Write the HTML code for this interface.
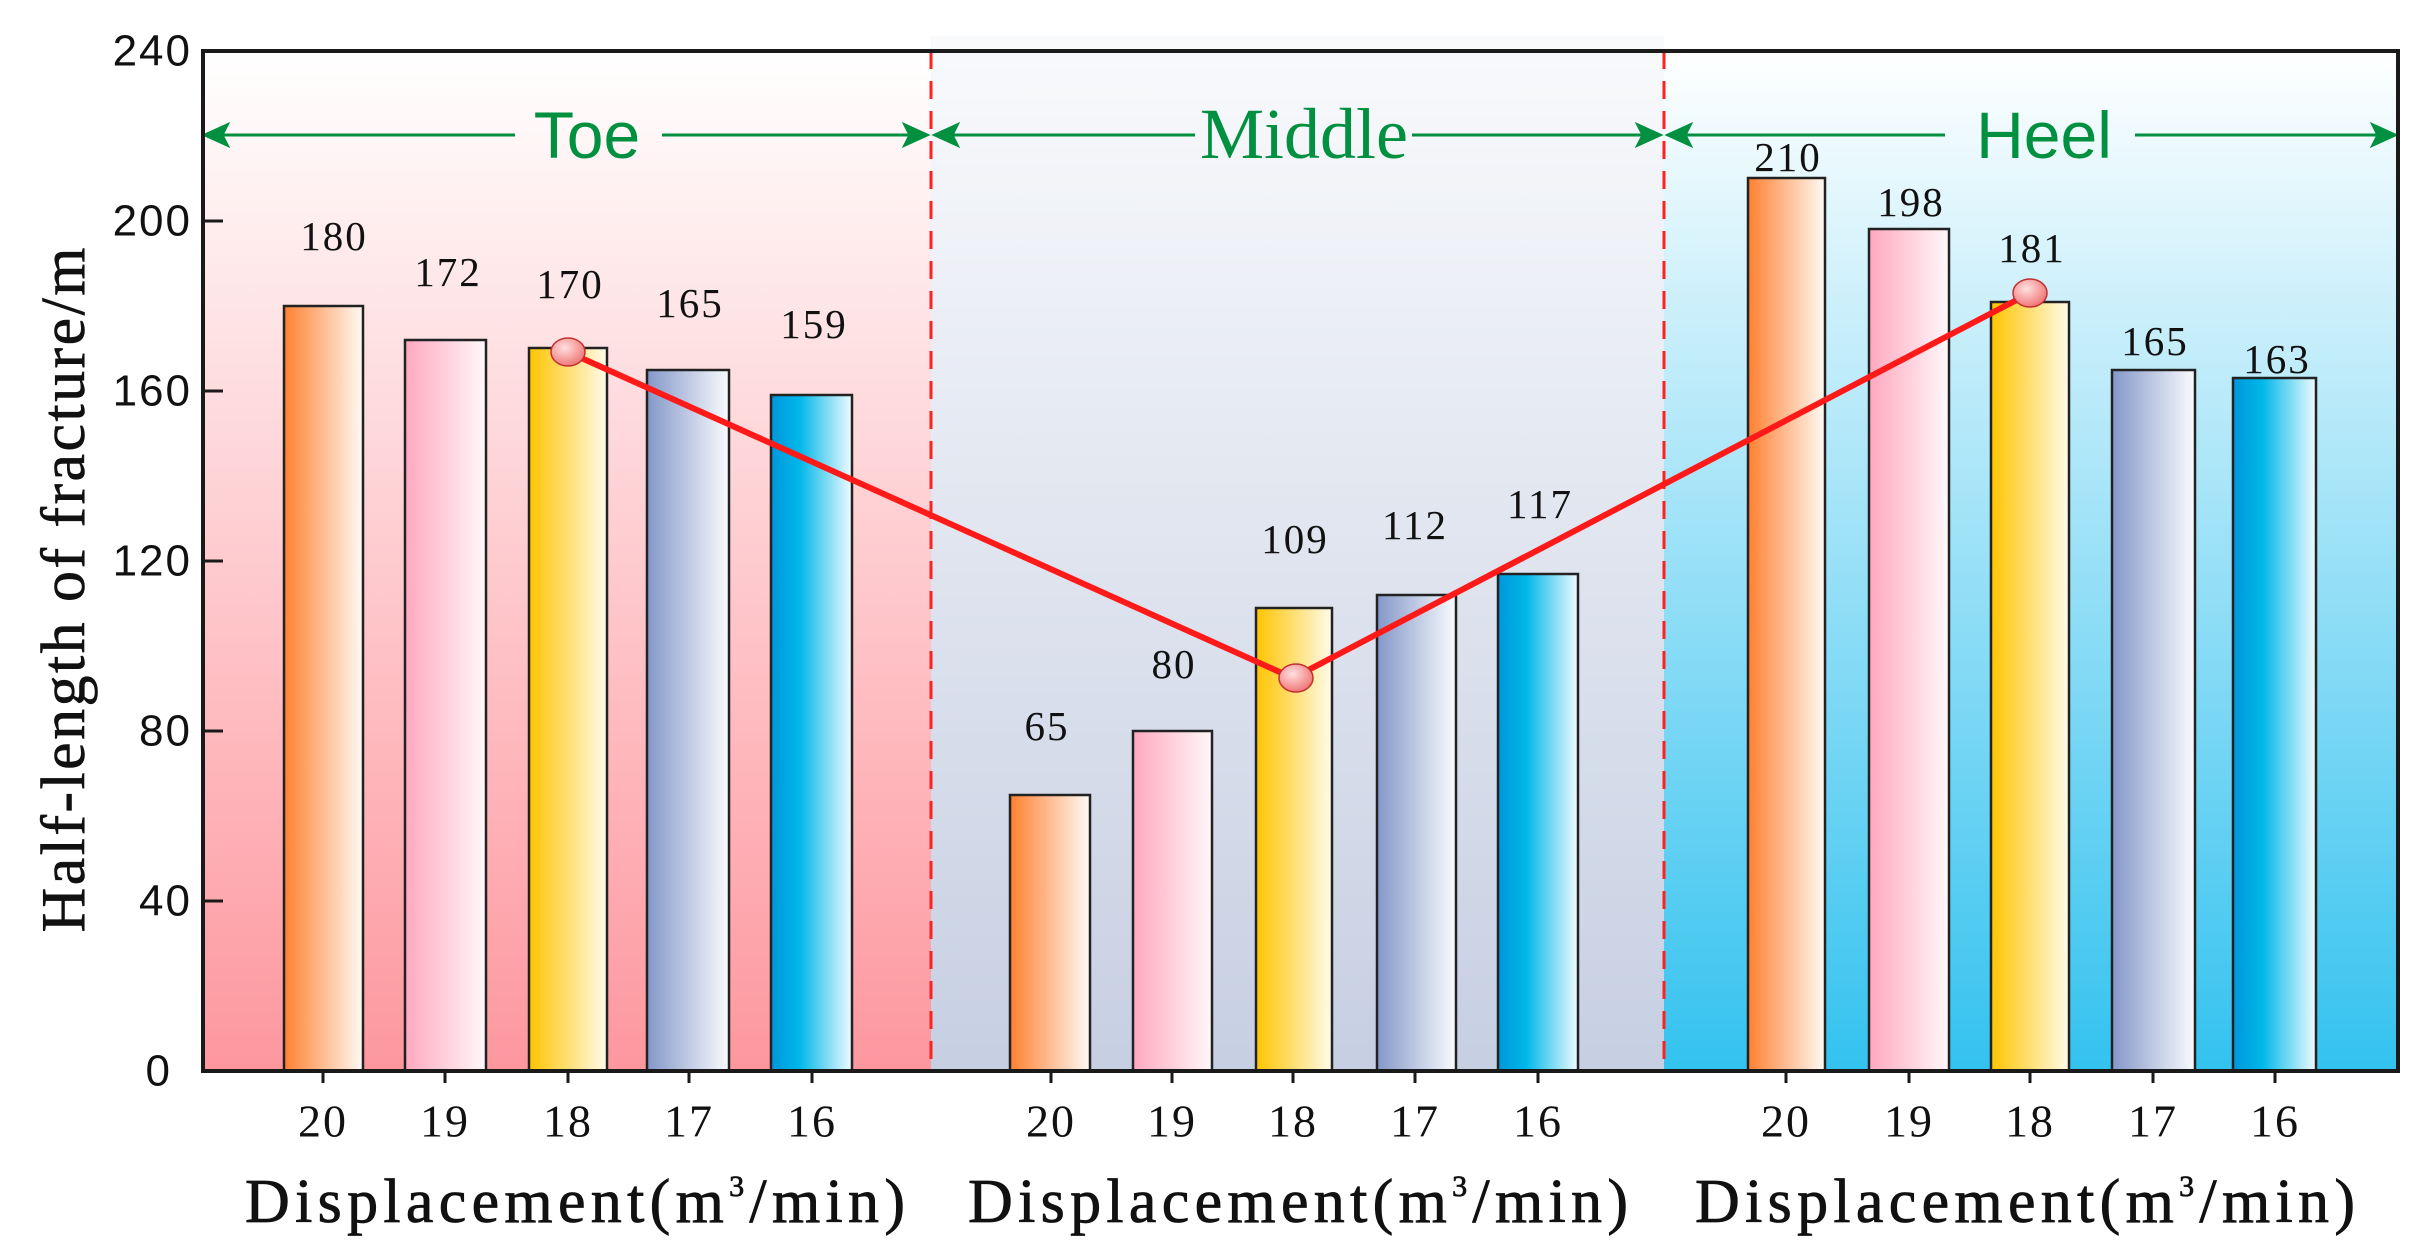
<!DOCTYPE html>
<html><head><meta charset="utf-8"><style>html,body{margin:0;padding:0;background:#fff}svg{display:block}</style></head>
<body>
<svg width="2433" height="1260" viewBox="0 0 2433 1260" xmlns="http://www.w3.org/2000/svg">
<defs>
<linearGradient id="bgT" x1="0" y1="0" x2="0" y2="1"><stop offset="0" stop-color="#ffffff"/><stop offset="1" stop-color="#fd979e"/></linearGradient>
<linearGradient id="bgM" x1="0" y1="0" x2="0" y2="1"><stop offset="0" stop-color="#f9fafc"/><stop offset="1" stop-color="#c6cfe2"/></linearGradient>
<linearGradient id="bgH" x1="0" y1="0" x2="0" y2="1"><stop offset="0" stop-color="#ffffff"/><stop offset="1" stop-color="#33c2ef"/></linearGradient>
<linearGradient id="g1" x1="0" y1="0" x2="1" y2="0"><stop offset="0" stop-color="#ff8030"/><stop offset="1" stop-color="#fffaf5"/></linearGradient>
<linearGradient id="g2" x1="0" y1="0" x2="1" y2="0"><stop offset="0" stop-color="#ffa8bf"/><stop offset="1" stop-color="#fff8fa"/></linearGradient>
<linearGradient id="g3" x1="0" y1="0" x2="1" y2="0"><stop offset="0" stop-color="#ffc400"/><stop offset="1" stop-color="#fffbea"/></linearGradient>
<linearGradient id="g4" x1="0" y1="0" x2="1" y2="0"><stop offset="0" stop-color="#8397c8"/><stop offset="1" stop-color="#fafbfe"/></linearGradient>
<linearGradient id="g5" x1="0" y1="0" x2="1" y2="0"><stop offset="0" stop-color="#0096dc"/><stop offset="0.35" stop-color="#00b7e8"/><stop offset="1" stop-color="#f0fbff"/></linearGradient>
<radialGradient id="dot" cx="0.4" cy="0.35" r="0.7"><stop offset="0" stop-color="#ffe0e0"/><stop offset="1" stop-color="#f07070"/></radialGradient>
</defs>
<rect x="203" y="51" width="728" height="1020" fill="url(#bgT)"/>
<rect x="931" y="36" width="733" height="1035" fill="url(#bgM)"/>
<rect x="1664" y="51" width="734" height="1020" fill="url(#bgH)"/>

<g stroke="#222" stroke-width="2.5">
<rect x="284" y="306" width="79" height="765" fill="url(#g1)"/>
<rect x="405" y="340" width="81" height="731" fill="url(#g2)"/>
<rect x="529" y="348" width="78" height="723" fill="url(#g3)"/>
<rect x="647" y="370" width="82" height="701" fill="url(#g4)"/>
<rect x="771" y="395" width="81" height="676" fill="url(#g5)"/>

<rect x="1010" y="795" width="80" height="276" fill="url(#g1)"/>
<rect x="1133" y="731" width="79" height="340" fill="url(#g2)"/>
<rect x="1256" y="608" width="76" height="463" fill="url(#g3)"/>
<rect x="1377" y="595" width="79" height="476" fill="url(#g4)"/>
<rect x="1498" y="574" width="80" height="497" fill="url(#g5)"/>

<rect x="1748" y="178" width="77" height="893" fill="url(#g1)"/>
<rect x="1869" y="229" width="80" height="842" fill="url(#g2)"/>
<rect x="1991" y="302" width="78" height="769" fill="url(#g3)"/>
<rect x="2112" y="370" width="83" height="701" fill="url(#g4)"/>
<rect x="2233" y="378" width="83" height="693" fill="url(#g5)"/>
</g>

<g stroke="#ff2020" stroke-width="3" stroke-dasharray="18,12">
<line x1="931" y1="51" x2="931" y2="1071"/>
<line x1="1664" y1="51" x2="1664" y2="1071"/>
</g>

<g stroke="#009040" stroke-width="3" fill="#009040">
<line x1="211" y1="135" x2="515" y2="135"/><line x1="662" y1="135" x2="922" y2="135"/>
<line x1="939" y1="135" x2="1195" y2="135"/><line x1="1412" y1="135" x2="1655" y2="135"/>
<line x1="1672" y1="135" x2="1945" y2="135"/><line x1="2135" y1="135" x2="2391" y2="135"/>
<path d="M205 135 l22 -10 l-5 10 l5 10z"/><path d="M927 135 l-22 -10 l5 10 l-5 10z"/>
<path d="M935 135 l22 -10 l-5 10 l5 10z"/><path d="M1660 135 l-22 -10 l5 10 l-5 10z"/>
<path d="M1668 135 l22 -10 l-5 10 l5 10z"/><path d="M2395 135 l-22 -10 l5 10 l-5 10z"/>
</g>
<g fill="#009040" text-anchor="middle">
<text x="587" y="158" font-family="Liberation Sans, sans-serif" font-size="66">Toe</text>
<text x="1304" y="158" font-family="Liberation Serif, serif" font-size="72">Middle</text>
<text x="2044" y="158" font-family="Liberation Sans, sans-serif" font-size="66">Heel</text>
</g>

<polyline points="568,352 1293,678 2030,293" fill="none" stroke="#ff1a1a" stroke-width="6"/>
<g fill="url(#dot)" stroke="#c03030" stroke-width="1.5">
<ellipse cx="568" cy="352" rx="17" ry="14"/><ellipse cx="1296" cy="678" rx="17" ry="14"/><ellipse cx="2030" cy="293" rx="17" ry="14"/>
</g>

<g font-family="Liberation Serif, serif" font-size="41" letter-spacing="2" fill="#111" text-anchor="middle" dominant-baseline="central">
<text x="334" y="236">180</text><text x="448" y="272">172</text><text x="570" y="284">170</text><text x="690" y="303">165</text><text x="814" y="324">159</text>
<text x="1047" y="726">65</text><text x="1174" y="664">80</text><text x="1295" y="539">109</text><text x="1415" y="525">112</text><text x="1540" y="504">117</text>
<text x="1788" y="157">210</text><text x="1911" y="202">198</text><text x="2032" y="248">181</text><text x="2155" y="341">165</text><text x="2277" y="359">163</text>
</g>

<rect x="203" y="51" width="2195" height="1020" fill="none" stroke="#1a1a1a" stroke-width="4"/>
<g stroke="#1a1a1a" stroke-width="3">
<line x1="203" y1="221" x2="223" y2="221"/><line x1="203" y1="391" x2="223" y2="391"/>
<line x1="203" y1="561" x2="223" y2="561"/><line x1="203" y1="731" x2="223" y2="731"/>
<line x1="203" y1="901" x2="223" y2="901"/>
</g>
<g stroke="#1a1a1a" stroke-width="3">
<line x1="323" y1="1071" x2="323" y2="1083"/><line x1="445" y1="1071" x2="445" y2="1083"/><line x1="568" y1="1071" x2="568" y2="1083"/><line x1="689" y1="1071" x2="689" y2="1083"/><line x1="812" y1="1071" x2="812" y2="1083"/>
<line x1="1051" y1="1071" x2="1051" y2="1083"/><line x1="1172" y1="1071" x2="1172" y2="1083"/><line x1="1293" y1="1071" x2="1293" y2="1083"/><line x1="1415" y1="1071" x2="1415" y2="1083"/><line x1="1538" y1="1071" x2="1538" y2="1083"/>
<line x1="1786" y1="1071" x2="1786" y2="1083"/><line x1="1909" y1="1071" x2="1909" y2="1083"/><line x1="2030" y1="1071" x2="2030" y2="1083"/><line x1="2153" y1="1071" x2="2153" y2="1083"/><line x1="2275" y1="1071" x2="2275" y2="1083"/>
</g>
<g font-family="Liberation Sans, sans-serif" font-size="44" letter-spacing="2" fill="#111" text-anchor="end" dominant-baseline="central">
<text x="192" y="51">240</text><text x="192" y="221">200</text><text x="192" y="391">160</text><text x="192" y="561">120</text><text x="192" y="731">80</text><text x="192" y="901">40</text><text x="172" y="1071">0</text>
</g>
<g font-family="Liberation Serif, serif" font-size="46" letter-spacing="2" fill="#111" text-anchor="middle" dominant-baseline="central">
<text x="323" y="1121">20</text><text x="445" y="1121">19</text><text x="568" y="1121">18</text><text x="689" y="1121">17</text><text x="812" y="1121">16</text>
<text x="1051" y="1121">20</text><text x="1172" y="1121">19</text><text x="1293" y="1121">18</text><text x="1415" y="1121">17</text><text x="1538" y="1121">16</text>
<text x="1786" y="1121">20</text><text x="1909" y="1121">19</text><text x="2030" y="1121">18</text><text x="2153" y="1121">17</text><text x="2275" y="1121">16</text>
</g>
<g font-family="Liberation Serif, serif" font-size="62" fill="#111" stroke="#111" stroke-width="0.8">
<text x="245" y="1222" textLength="660" lengthAdjust="spacing">Displacement(m<tspan font-size="30" dy="-26">3</tspan><tspan dy="26">/min)</tspan></text>
<text x="968" y="1222" textLength="660" lengthAdjust="spacing">Displacement(m<tspan font-size="30" dy="-26">3</tspan><tspan dy="26">/min)</tspan></text>
<text x="1695" y="1222" textLength="660" lengthAdjust="spacing">Displacement(m<tspan font-size="30" dy="-26">3</tspan><tspan dy="26">/min)</tspan></text>
</g>
<text transform="translate(84,590) rotate(-90)" font-family="Liberation Serif, serif" font-size="62" fill="#111" stroke="#111" stroke-width="0.6" text-anchor="middle" textLength="685" lengthAdjust="spacing">Half-length of  fracture/m</text>
</svg>
</body></html>
